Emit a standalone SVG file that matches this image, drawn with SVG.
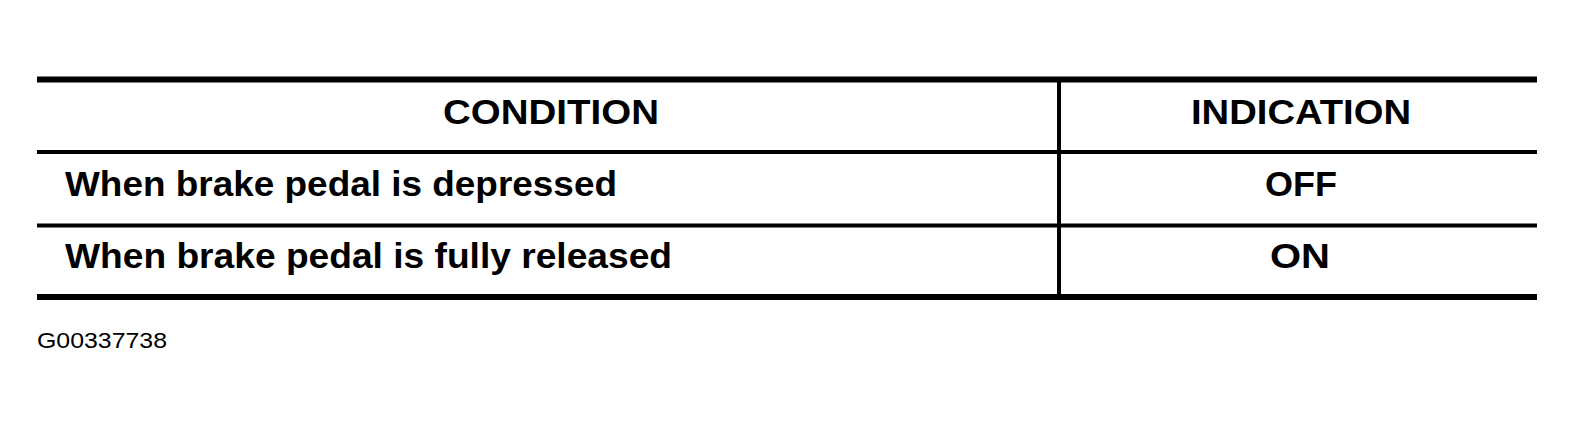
<svg xmlns="http://www.w3.org/2000/svg" width="1575" height="423" viewBox="0 0 1575 423">
<style>
.rule{stroke:#000;fill:none}
.t{font-family:"Liberation Sans",Arial,sans-serif;font-weight:bold;font-size:35px;fill:#000}
.cap{font-family:"Liberation Sans",Arial,sans-serif;font-size:22px;fill:#000}
</style>
<rect width="1575" height="423" fill="#fff"/>
<g id="connectors">
<line class="rule" x1="37" y1="79.5" x2="1537" y2="79.5" stroke-width="6"/>
<line class="rule" x1="37" y1="152" x2="1537" y2="152" stroke-width="4"/>
<line class="rule" x1="37" y1="225.5" x2="1537" y2="225.5" stroke-width="4"/>
<line class="rule" x1="37" y1="297" x2="1537" y2="297" stroke-width="6"/>
<line class="rule" x1="1059" y1="79" x2="1059" y2="297" stroke-width="4"/>
</g>
<g id="header-condition"><text class="t" x="443" y="124" textLength="216" lengthAdjust="spacingAndGlyphs">CONDITION</text></g>
<g id="header-indication"><text class="t" x="1191" y="124" textLength="220" lengthAdjust="spacingAndGlyphs">INDICATION</text></g>
<g id="row1-condition"><text class="t" x="65" y="196" textLength="552" lengthAdjust="spacingAndGlyphs">When brake pedal is depressed</text></g>
<g id="row1-indication"><text class="t" x="1265" y="196" textLength="72" lengthAdjust="spacingAndGlyphs">OFF</text></g>
<g id="row2-condition"><text class="t" x="65" y="268" textLength="607" lengthAdjust="spacingAndGlyphs">When brake pedal is fully released</text></g>
<g id="row2-indication"><text class="t" x="1270" y="268" textLength="60" lengthAdjust="spacingAndGlyphs">ON</text></g>
<g id="caption"><text class="cap" x="37" y="348" textLength="130" lengthAdjust="spacingAndGlyphs">G00337738</text></g>
</svg>
